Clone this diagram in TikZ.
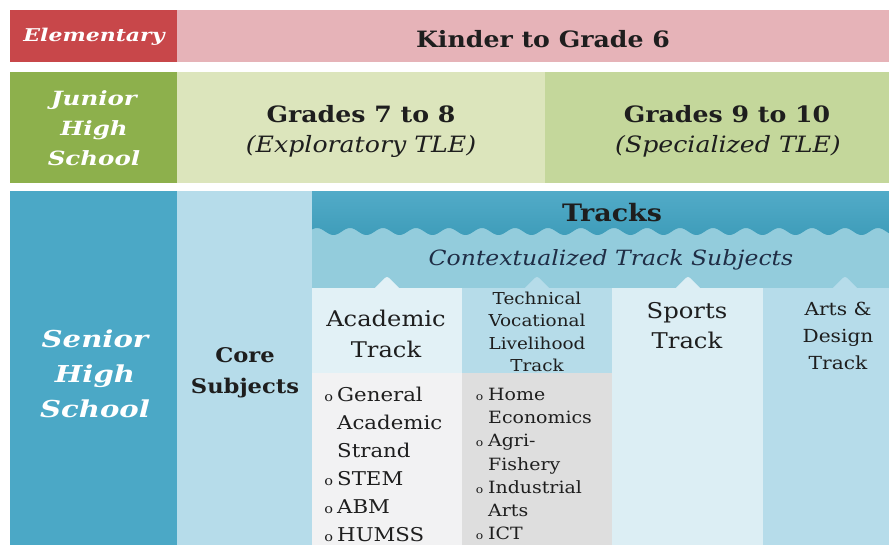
\documentclass[tikz,border=0pt]{standalone}
\usepackage{fontspec}
\setmainfont{DejaVu Serif}[FakeStretch=1.12]
\newfontfamily\widefont{DejaVu Serif}[FakeStretch=1.25]
\definecolor{elemred}{HTML}{C8474A}
\definecolor{elempink}{HTML}{E6B3B8}
\definecolor{jhgreen}{HTML}{8DB04C}
\definecolor{jhlight}{HTML}{DCE5BC}
\definecolor{jhmid}{HTML}{C4D79B}
\definecolor{shblue}{HTML}{4BA8C6}
\definecolor{corebg}{HTML}{B6DCEA}
\definecolor{trtop}{HTML}{52ABC8}
\definecolor{trbot}{HTML}{3F9DBA}
\definecolor{ctxbg}{HTML}{93CCDC}
\definecolor{acadhead}{HTML}{E2F1F6}
\definecolor{acadlist}{HTML}{F2F2F3}
\definecolor{tvlhead}{HTML}{B6DCE9}
\definecolor{tvllist}{HTML}{DEDEDE}
\definecolor{sportsbg}{HTML}{DCEEF4}
\definecolor{artsbg}{HTML}{B6DCEA}
\definecolor{ink}{HTML}{1E1E1E}
\definecolor{navy}{HTML}{1F2D45}
\newcommand{\bulA}{\llap{{\fontsize{13}{13}\selectfont o}\hspace{4pt}}}
\newcommand{\bulB}{\llap{{\fontsize{11}{11}\selectfont o}\hspace{5pt}}}
\begin{document}
\begin{tikzpicture}[x=1pt,y=-1pt,
  lbl/.style={inner sep=0pt, align=center, text=ink},
  whitelbl/.style={inner sep=0pt, align=center, text=white},
  listlbl/.style={inner sep=0pt, align=left, anchor=west, text=ink}]
\useasboundingbox (0,0) rectangle (889,546);
\fill[white] (0,0) rectangle (889,546);
% Elementary row
\fill[elemred] (10,10) rectangle (177,62);
\fill[elempink] (177,10) rectangle (889,62);
% Junior high row
\fill[jhgreen] (10,72) rectangle (177,183);
\fill[jhlight] (177,72) rectangle (545,183);
\fill[jhmid] (545,72) rectangle (889,183);
% Senior high row
\fill[shblue] (10,191) rectangle (177,545);
\fill[corebg] (177,191) rectangle (312,545);
\fill[ctxbg] (312,191) rectangle (889,289);
\shade[top color=trtop, bottom color=trbot]
  (312,191) -- (889,191) --
  plot[domain=889:312, samples=300] (\x, {231.5-3.5*cos(10.9091*(\x-350))}) -- cycle;
% columns
\fill[acadhead] (312,288) rectangle (462,373);
\fill[acadlist] (312,373) rectangle (462,545);
\fill[tvlhead] (462,288) rectangle (612,373);
\fill[tvllist] (462,373) rectangle (612,545);
\fill[sportsbg] (612,288) rectangle (763,545);
\fill[artsbg] (763,288) rectangle (889,545);
\foreach \cx/\col in {387/acadhead, 537/tvlhead, 688/sportsbg, 845/artsbg} {
  \fill[\col] ({\cx-13},289) .. controls ({\cx-5},281) and ({\cx-2},277) .. (\cx,277)
     .. controls ({\cx+2},277) and ({\cx+5},281) .. ({\cx+13},289) -- cycle;
}
% texts
\node[whitelbl, font=\widefont\bfseries\itshape\fontsize{17.6}{20}\selectfont] (elem) at (94,37) {Elementary};
\node[lbl, font=\bfseries\fontsize{22.5}{26}\selectfont] (kinder) at (543,39) {Kinder to Grade 6};
\node[whitelbl, font=\widefont\bfseries\itshape\fontsize{19.6}{30}\selectfont] (jhs) at (94,128) {Junior\\High\\School};
\node[lbl, font=\bfseries\fontsize{22.5}{32}\selectfont] (g78) at (361,114) {Grades 7 to 8};
\node[lbl, font=\itshape\fontsize{22.5}{32}\selectfont] (g78b) at (361,146) {(Exploratory TLE)};
\node[lbl, font=\bfseries\fontsize{22.5}{32}\selectfont] (g910) at (727,114) {Grades 9 to 10};
\node[lbl, font=\itshape\fontsize{22.5}{32}\selectfont] (g910b) at (728,146) {(Specialized TLE)};
\node[whitelbl, font=\widefont\bfseries\itshape\fontsize{23.3}{35}\selectfont] (shs) at (95,374) {Senior\\High\\School};
\node[lbl, font=\bfseries\fontsize{20.2}{31}\selectfont] (core) at (245,373) {Core\\Subjects};
\node[lbl, font=\bfseries\fontsize{24}{28}\selectfont] (tracks) at (612,213) {Tracks};
\node[lbl, text=navy, font=\itshape\fontsize{21}{24}\selectfont] (ctx) at (611,260) {Contextualized Track Subjects};
\node[lbl, font=\fontsize{21.6}{31}\selectfont] (acad) at (386,334) {Academic\\Track};
\node[lbl, font=\fontsize{16.4}{22.5}\selectfont] (tvl) at (537,332) {Technical\\Vocational\\Livelihood\\Track};
\node[lbl, font=\fontsize{21.7}{30}\selectfont] (sports) at (687,326) {Sports\\Track};
\node[lbl, font=\fontsize{18}{27}\selectfont] (arts) at (838,336) {Arts \&\\Design\\Track};
\node[listlbl, font=\fontsize{19}{28}\selectfont] (acadl) at (337,464)
  {\bulA General\\Academic\\Strand\\\bulA STEM\\\bulA ABM\\\bulA HUMSS};
\node[listlbl, font=\fontsize{16.9}{23.3}\selectfont] (tvll) at (488,464)
  {\bulB Home\\Economics\\\bulB Agri-\\Fishery\\\bulB Industrial\\Arts\\\bulB ICT};
\end{tikzpicture}
\end{document}
